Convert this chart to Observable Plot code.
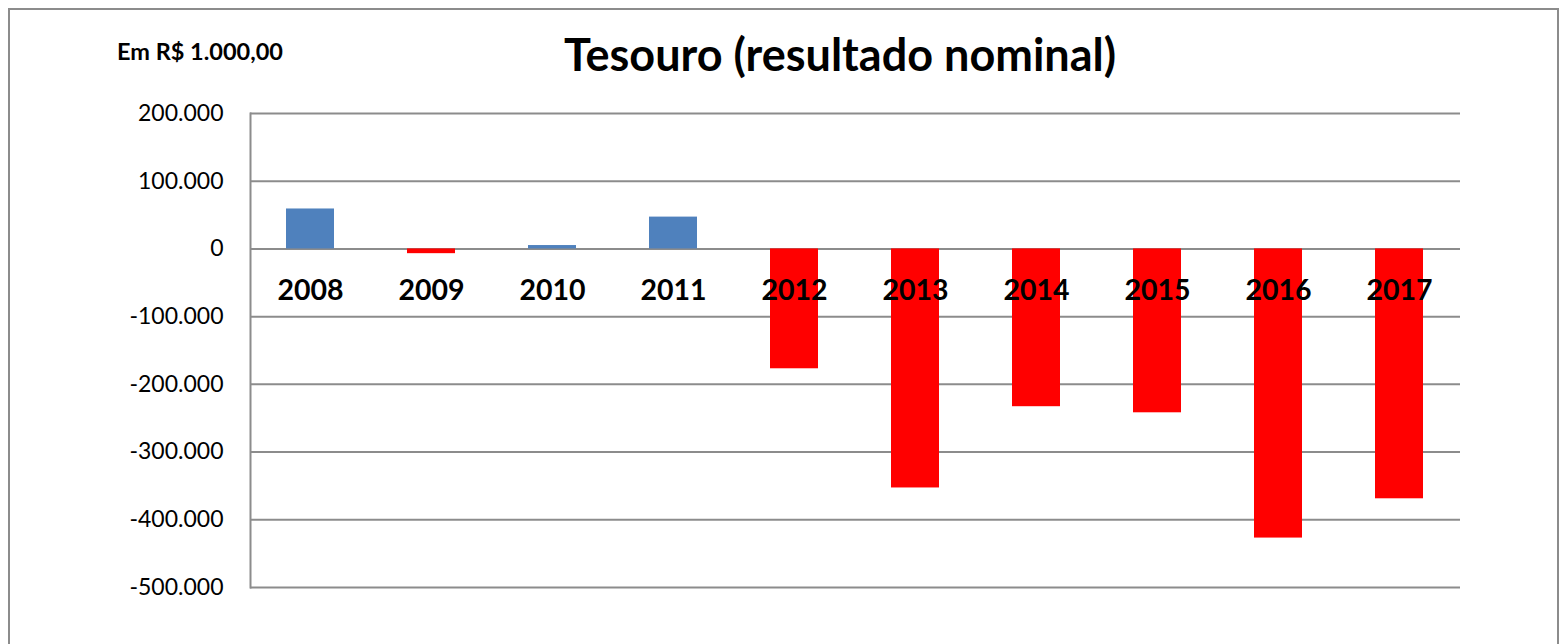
<!DOCTYPE html>
<html><head><meta charset="utf-8">
<script src="https://cdn.jsdelivr.net/npm/d3@7"></script>
<script src="https://cdn.jsdelivr.net/npm/@observablehq/plot@0.6"></script>
<style>
body{margin:0;background:#fff;font-family:Lato,"Open Sans",sans-serif;}
#wrap{position:relative;width:1568px;height:644px;overflow:hidden;}
#frame{position:absolute;left:8px;top:8px;width:1551px;height:700px;border:2px solid #8c8c8c;box-sizing:border-box;}
#title{position:absolute;left:0;width:1680px;top:27px;text-align:center;font-size:45px;font-weight:bold;color:#000;line-height:1.2;}
#unit{position:absolute;left:117px;top:37px;font-size:23.5px;font-weight:bold;color:#000;line-height:1.2;}
#chart{position:absolute;left:0;top:0;}
</style></head>
<body>
<div id="wrap">
<div id="frame"></div>
<div id="chart"></div>
<div id="title">Tesouro (resultado nominal)</div>
<div id="unit">Em R$ 1.000,00</div>
</div>
<script>
const years = ["2008","2009","2010","2011","2012","2013","2014","2015","2016","2017"];
const values = [59000, -7000, 5000, 47000, -177000, -353000, -233000, -242000, -427000, -369000];
const yTicks = [200000, 100000, 0, -100000, -200000, -300000, -400000, -500000];

const data = years.map((y, i) => ({year: y, value: values[i]}));
const ptBR = d3.formatLocale({decimal: ",", thousands: ".", grouping: [3], currency: ["R$", ""], minus: "-"});
const fmt = ptBR.format(",d");

const chart = Plot.plot({
  width: 1568,
  height: 644,
  marginTop: 113,
  marginBottom: 57,
  marginLeft: 250,
  marginRight: 108,
  style: {fontFamily: "Lato, 'Open Sans', sans-serif", background: "transparent"},
  x: {domain: years, paddingInner: 0.6, paddingOuter: 0.3, axis: null},
  y: {domain: [-500000, 200000], ticks: yTicks, tickFormat: fmt, label: null},
  marks: [
    Plot.gridY(yTicks, {stroke: "#8c8c8c", strokeOpacity: 1, strokeWidth: 2}),
    Plot.frame({anchor: "left", stroke: "#8c8c8c", strokeWidth: 2}),
    Plot.barY(data, {x: "year", y: "value", fill: d => d.value >= 0 ? "#4f81bd" : "#ff0000"}),
    Plot.axisY(yTicks, {tickFormat: fmt, tickSize: 0, tickPadding: 27, fontSize: 23, fill: "#000", label: null}),
    Plot.text(data, {x: "year", y: () => 0, text: "year", dy: 42, fontSize: 28.5, fontWeight: "bold", fill: "#000"})
  ]
});
document.getElementById("chart").appendChild(chart);
</script>
</body></html>
